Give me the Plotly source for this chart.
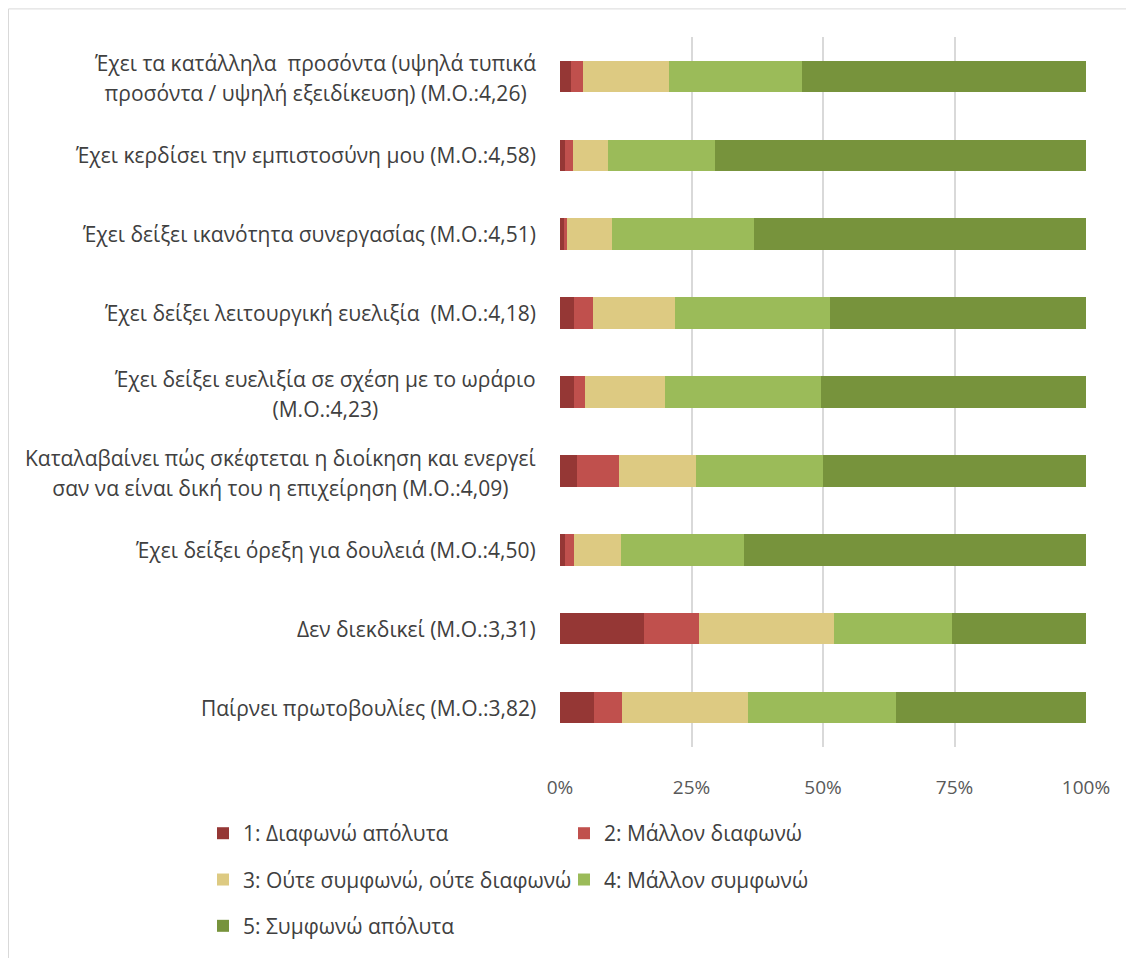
import plotly.graph_objects as go

categories = [
    ["Έχει τα κατάλληλα  προσόντα (υψηλά τυπικά", "προσόντα / υψηλή εξειδίκευση) (Μ.Ο.:4,26)"],
    ["Έχει κερδίσει την εμπιστοσύνη μου (Μ.Ο.:4,58)"],
    ["Έχει δείξει ικανότητα συνεργασίας (Μ.Ο.:4,51)"],
    ["Έχει δείξει λειτουργική ευελιξία  (Μ.Ο.:4,18)"],
    ["Έχει δείξει ευελιξία σε σχέση με το ωράριο", "(Μ.Ο.:4,23)"],
    ["Καταλαβαίνει πώς σκέφτεται η διοίκηση και ενεργεί", "σαν να είναι δική του η επιχείρηση (Μ.Ο.:4,09)"],
    ["Έχει δείξει όρεξη για δουλειά (Μ.Ο.:4,50)"],
    ["Δεν διεκδικεί (Μ.Ο.:3,31)"],
    ["Παίρνει πρωτοβουλίες (Μ.Ο.:3,82)"],
]

series_names = [
    "1: Διαφωνώ απόλυτα",
    "2: Μάλλον διαφωνώ",
    "3: Ούτε συμφωνώ, ούτε διαφωνώ",
    "4: Μάλλον συμφωνώ",
    "5: Συμφωνώ απόλυτα",
]

v1 = [2.1, 1.0, 0.8, 2.7, 2.7, 3.2, 1.0, 16.0, 6.5]
v2 = [2.3, 1.5, 0.5, 3.6, 2.1, 8.0, 1.7, 10.4, 5.3]
v3 = [16.4, 6.6, 8.6, 15.5, 15.2, 14.7, 8.9, 25.7, 23.9]
v4 = [25.3, 20.3, 26.9, 29.5, 29.6, 24.1, 23.4, 22.4, 28.1]
v5 = [53.9, 70.6, 63.2, 48.7, 50.4, 50.0, 65.1, 25.5, 36.2]

tick_vals = [0, 25, 50, 75, 100]
tick_text = ["0%", "25%", "50%", "75%", "100%"]

colors = ["#953735", "#c0504d", "#ddca82", "#9bbb59", "#77933c"]

FONT = "Open Sans"
keys = [" | ".join(c) for c in categories]

fig = go.Figure()
values = [v1, v2, v3, v4, v5]
legend_ids = ["legend", "legend2", "legend", "legend2", "legend"]
for i, (name, vals) in enumerate(zip(series_names, values)):
    fig.add_trace(go.Bar(
        y=keys, x=vals, name=name, orientation="h",
        marker=dict(color=colors[i], line=dict(width=0)),
        legend=legend_ids[i], legendgroup=f"g{i}",
        hovertemplate="%{x}%<extra>" + name + "</extra>",
    ))

LBL = "font-size:21px"
annotations = []
for key, lines in zip(keys, categories):
    txt = "<br>".join(f"<span style='{LBL}'>{ln}</span>" for ln in lines)
    annotations.append(dict(
        x=0, xref="paper", y=key, yref="y", xanchor="right", yanchor="middle",
        xshift=-22, yshift=-2 if len(lines) > 1 else 0,
        text=txt, showarrow=False, align="center",
        font=dict(family=FONT, size=23, color="#404040"),
    ))

# page body has an 8px margin; work in reference pixel coords minus OFF
OFF = 8
W, H = 1134 - OFF, 958 - OFF
L = 560 - OFF
T = 37 - OFF
R = 1134 - 1086
B = 958 - 757
pw, ph = W - L - R, H - T - B

def px_x(p):
    return (p - OFF - L) / pw

def px_y(p):
    return (H - B - (p - OFF)) / ph

fig.update_layout(
    width=W, height=H,
    margin=dict(l=L, r=R, t=T, b=B),
    barmode="stack", bargap=0.6,
    plot_bgcolor="white", paper_bgcolor="white",
    font=dict(family=FONT, size=21, color="#404040"),
    xaxis=dict(range=[0, 100], tickvals=tick_vals, ticktext=tick_text,
               showgrid=True, gridcolor="#d9d9d9", gridwidth=2,
               zeroline=False, showline=False, ticks="",
               tickfont=dict(size=19, color="#595959"), ticklabelstandoff=27),
    yaxis=dict(autorange="reversed", showticklabels=False, showgrid=False,
               zeroline=False, showline=False, ticks=""),
    annotations=annotations,
    legend=dict(orientation="v", x=px_x(203), y=px_y(824), xanchor="left", yanchor="top",
                font=dict(size=21, color="#404040"), tracegroupgap=16,
                bgcolor="rgba(0,0,0,0)", traceorder="grouped"),
    legend2=dict(orientation="v", x=px_x(564), y=px_y(824), xanchor="left", yanchor="top",
                 font=dict(size=21, color="#404040"), tracegroupgap=16,
                 bgcolor="rgba(0,0,0,0)", traceorder="grouped"),
    shapes=[dict(type="rect", xref="paper", yref="paper",
                 x0=px_x(8.5), x1=px_x(1132.5), y0=px_y(1000), y1=px_y(8.5),
                 line=dict(color="#d9d9d9", width=1), fillcolor="rgba(0,0,0,0)",
                 layer="below")],
)

fig.write_html("out.html")
